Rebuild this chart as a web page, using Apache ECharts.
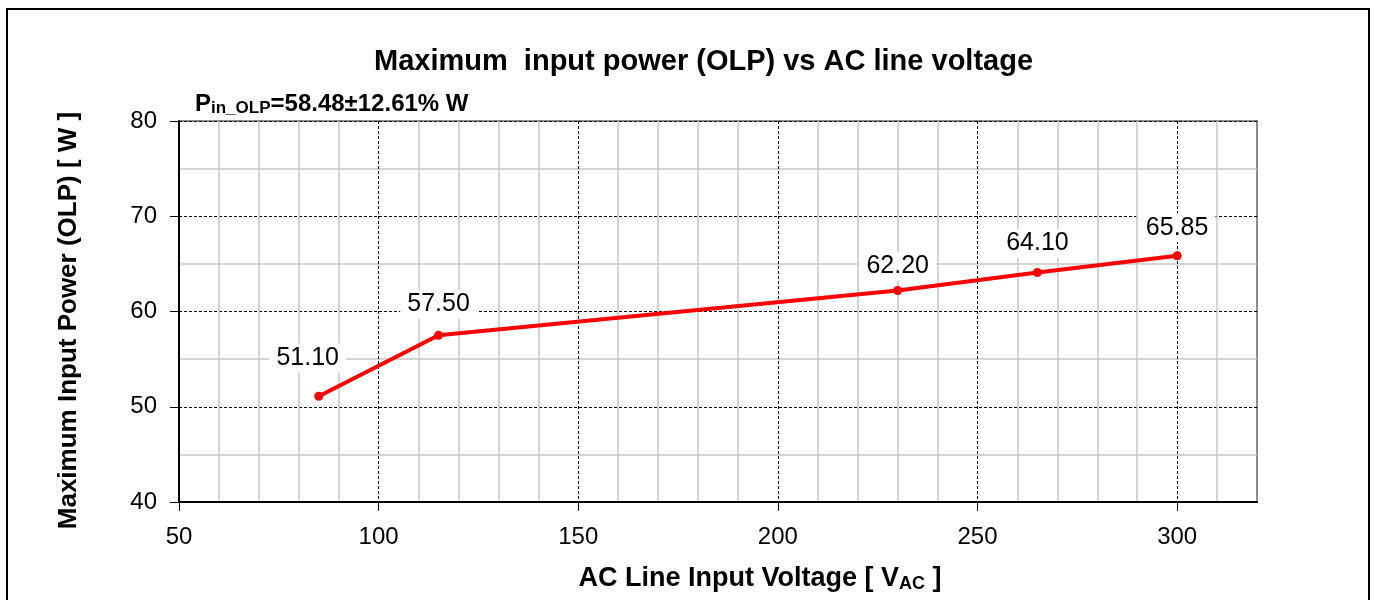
<!DOCTYPE html>
<html>
<head>
<meta charset="utf-8">
<script src="https://cdn.jsdelivr.net/npm/echarts@6/dist/echarts.min.js"></script>
<style>
  html, body { margin: 0; padding: 0; background: #fff; }
  #chart { width: 1375px; height: 600px; }
</style>
</head>
<body>
<div id="chart"></div>
<script>
const voltages = [85, 115, 230, 265, 300];
const powers = [51.10, 57.50, 62.20, 64.10, 65.85];
const xTicks = [50, 100, 150, 200, 250, 300];

const chart = echarts.init(document.getElementById('chart'));
const font = '"Liberation Sans", Arial, sans-serif';

// small nudges so the value labels sit where the original has them
const labelNudge = [[-11, -10], [0, -3], [0, 4], [0, -1], [0, 0]];

const option = {
  backgroundColor: '#fff',
  animation: false,
  textStyle: { fontFamily: font },
  graphic: [{
    type: 'rect',
    shape: { x: 7, y: 9, width: 1362, height: 610 },
    style: { fill: 'none', stroke: '#000', lineWidth: 2 },
    silent: true
  }],
  title: [{
    text: 'Maximum  input power (OLP) vs AC line voltage',
    left: 369,
    top: 42,
    textStyle: { fontSize: 29, fontWeight: 'bold', color: '#000', fontFamily: font }
  }, {
    text: 'P{sub|in_OLP}=58.48±12.61% W',
    left: 190,
    top: 86,
    textStyle: {
      fontSize: 24, fontWeight: 'bold', color: '#000', fontFamily: font,
      rich: {
        sub: { fontSize: 17, fontWeight: 'bold', padding: [9, 0, 0, 0], fontFamily: font }
      }
    }
  }],
  grid: {
    left: 179,
    right: 118,
    top: 121,
    bottom: 98,
    show: true,
    borderColor: '#8c8c8c',
    borderWidth: 2
  },
  xAxis: {
    type: 'value',
    min: 50,
    max: 320,
    interval: 50,
    name: 'AC Line Input Voltage [ V{sub|AC} ]',
    nameLocation: 'middle',
    nameGap: 63,
    nameTextStyle: {
      fontSize: 27, fontWeight: 'bold', color: '#000', fontFamily: font,
      padding: [0, 0, 0, 84],
      rich: { sub: { fontSize: 18, fontWeight: 'bold', padding: [10, 0, 0, 0], fontFamily: font } }
    },
    axisLine: { lineStyle: { color: '#000', width: 2 } },
    axisTick: { show: true, inside: false, length: 9, lineStyle: { color: '#000' }, customValues: xTicks },
    axisLabel: { fontSize: 24, color: '#000', margin: 23, fontFamily: font, customValues: xTicks },
    splitLine: { show: true, lineStyle: { color: '#000', type: [3, 2], width: 1 } },
    minorTick: { show: false, splitNumber: 5 },
    minorSplitLine: { show: true, lineStyle: { color: '#c6c6c6', width: 1.5 } }
  },
  yAxis: {
    type: 'value',
    min: 40,
    max: 80,
    interval: 10,
    name: 'Maximum Input Power (OLP) [ W ]',
    nameLocation: 'middle',
    nameGap: 97,
    nameTextStyle: {
      fontSize: 26, fontWeight: 'bold', color: '#000', fontFamily: font,
      padding: [0, 18, 0, 0]
    },
    axisLine: { show: true, lineStyle: { color: '#000', width: 2 } },
    axisTick: { show: true, inside: false, length: 9, lineStyle: { color: '#000' } },
    axisLabel: { fontSize: 24, color: '#000', margin: 22, fontFamily: font },
    splitLine: { show: true, lineStyle: { color: '#000', type: [3, 2], width: 1 } },
    minorTick: { show: false, splitNumber: 2 },
    minorSplitLine: { show: true, lineStyle: { color: '#c6c6c6', width: 1.5 } }
  },
  series: [{
    type: 'line',
    data: voltages.map((v, i) => ({
      value: [v, powers[i]],
      label: { offset: labelNudge[i] }
    })),
    lineStyle: { color: '#ff0000', width: 4 },
    itemStyle: { color: '#ff0000' },
    symbol: 'circle',
    symbolSize: 9,
    z: 5,
    label: {
      show: true,
      position: 'top',
      distance: 9,
      fontSize: 25,
      color: '#000',
      fontFamily: font,
      backgroundColor: '#fff',
      padding: [2, 7],
      formatter: p => p.value[1].toFixed(2)
    }
  }]
};

chart.setOption(option);
</script>
</body>
</html>
